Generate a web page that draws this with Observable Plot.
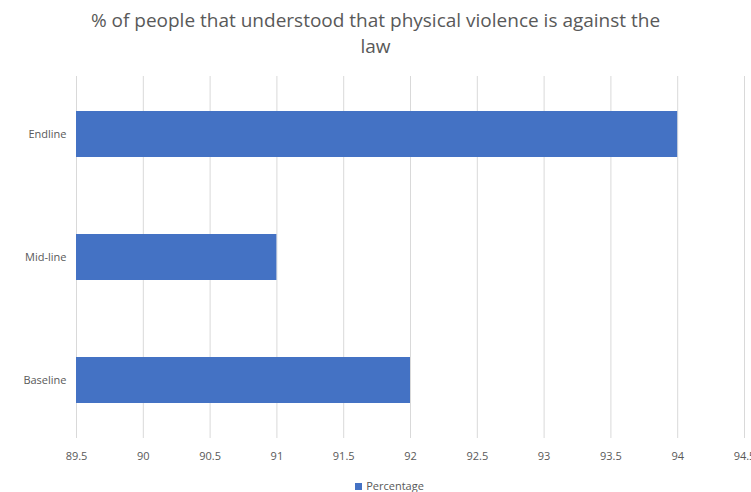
<!DOCTYPE html>
<html>
<head>
<meta charset="utf-8">
<script src="https://cdn.jsdelivr.net/npm/d3@7"></script>
<script src="https://cdn.jsdelivr.net/npm/@observablehq/plot@0.6"></script>
<style>
  html, body { margin: 0; padding: 0; background: #fff; overflow: hidden; }
  body { width: 751px; height: 492px; font-family: "Open Sans", "Liberation Sans", sans-serif; }
  #title { height: 62px; text-align: center; color: #595959; font-size: 19px; line-height: 26px; padding: 7px 0 0 0; box-sizing: border-box; }
  #title div { width: 600px; margin: 0 auto; }
  #legend { text-align: center; color: #595959; font-size: 11px; margin-top: 10px; padding-left: 28px; }
  #legend span.sw { display: inline-block; width: 7px; height: 7px; background: #4472c4; margin-right: 4px; vertical-align: 0px; }
  svg { display: block; overflow: visible; }
</style>
</head>
<body>
<div id="title"><div>% of people that understood that physical violence is against the law</div></div>
<div id="chart"></div>
<div id="legend"><span class="sw"></span>Percentage</div>
<script>
const categories = ["Endline", "Mid-line", "Baseline"];
const values = [94, 91, 92];
const xTicks = [89.5, 90, 90.5, 91, 91.5, 92, 92.5, 93, 93.5, 94, 94.5];
const seriesName = "Percentage";

const data = categories.map((c, i) => ({category: c, value: values[i]}));

const chart = Plot.plot({
  width: 751,
  height: 406,
  marginTop: 14,
  marginBottom: 30,
  marginLeft: 76,
  marginRight: 7,
  style: {fontFamily: "'Open Sans', 'Liberation Sans', sans-serif", fontSize: "11px", color: "#595959"},
  x: {domain: [89.5, 94.5], ticks: xTicks, label: null},
  y: {domain: categories, label: null, paddingInner: 0.63, paddingOuter: 0.28},
  marks: [
    Plot.gridX(xTicks, {stroke: "#d9d9d9", strokeOpacity: 1, strokeWidth: 1}),
    Plot.barX(data, {x1: 89.5, x2: "value", y: "category", fill: "#4472c4"}),
    Plot.axisX({ticks: xTicks, tickSize: 0, tickPadding: 14, label: null, tickFormat: d => String(d), fill: "#595959"}),
    Plot.axisY({tickSize: 0, tickPadding: 10, label: null, fill: "#595959"})
  ]
});
document.getElementById("chart").appendChild(chart);
</script>
</body>
</html>
